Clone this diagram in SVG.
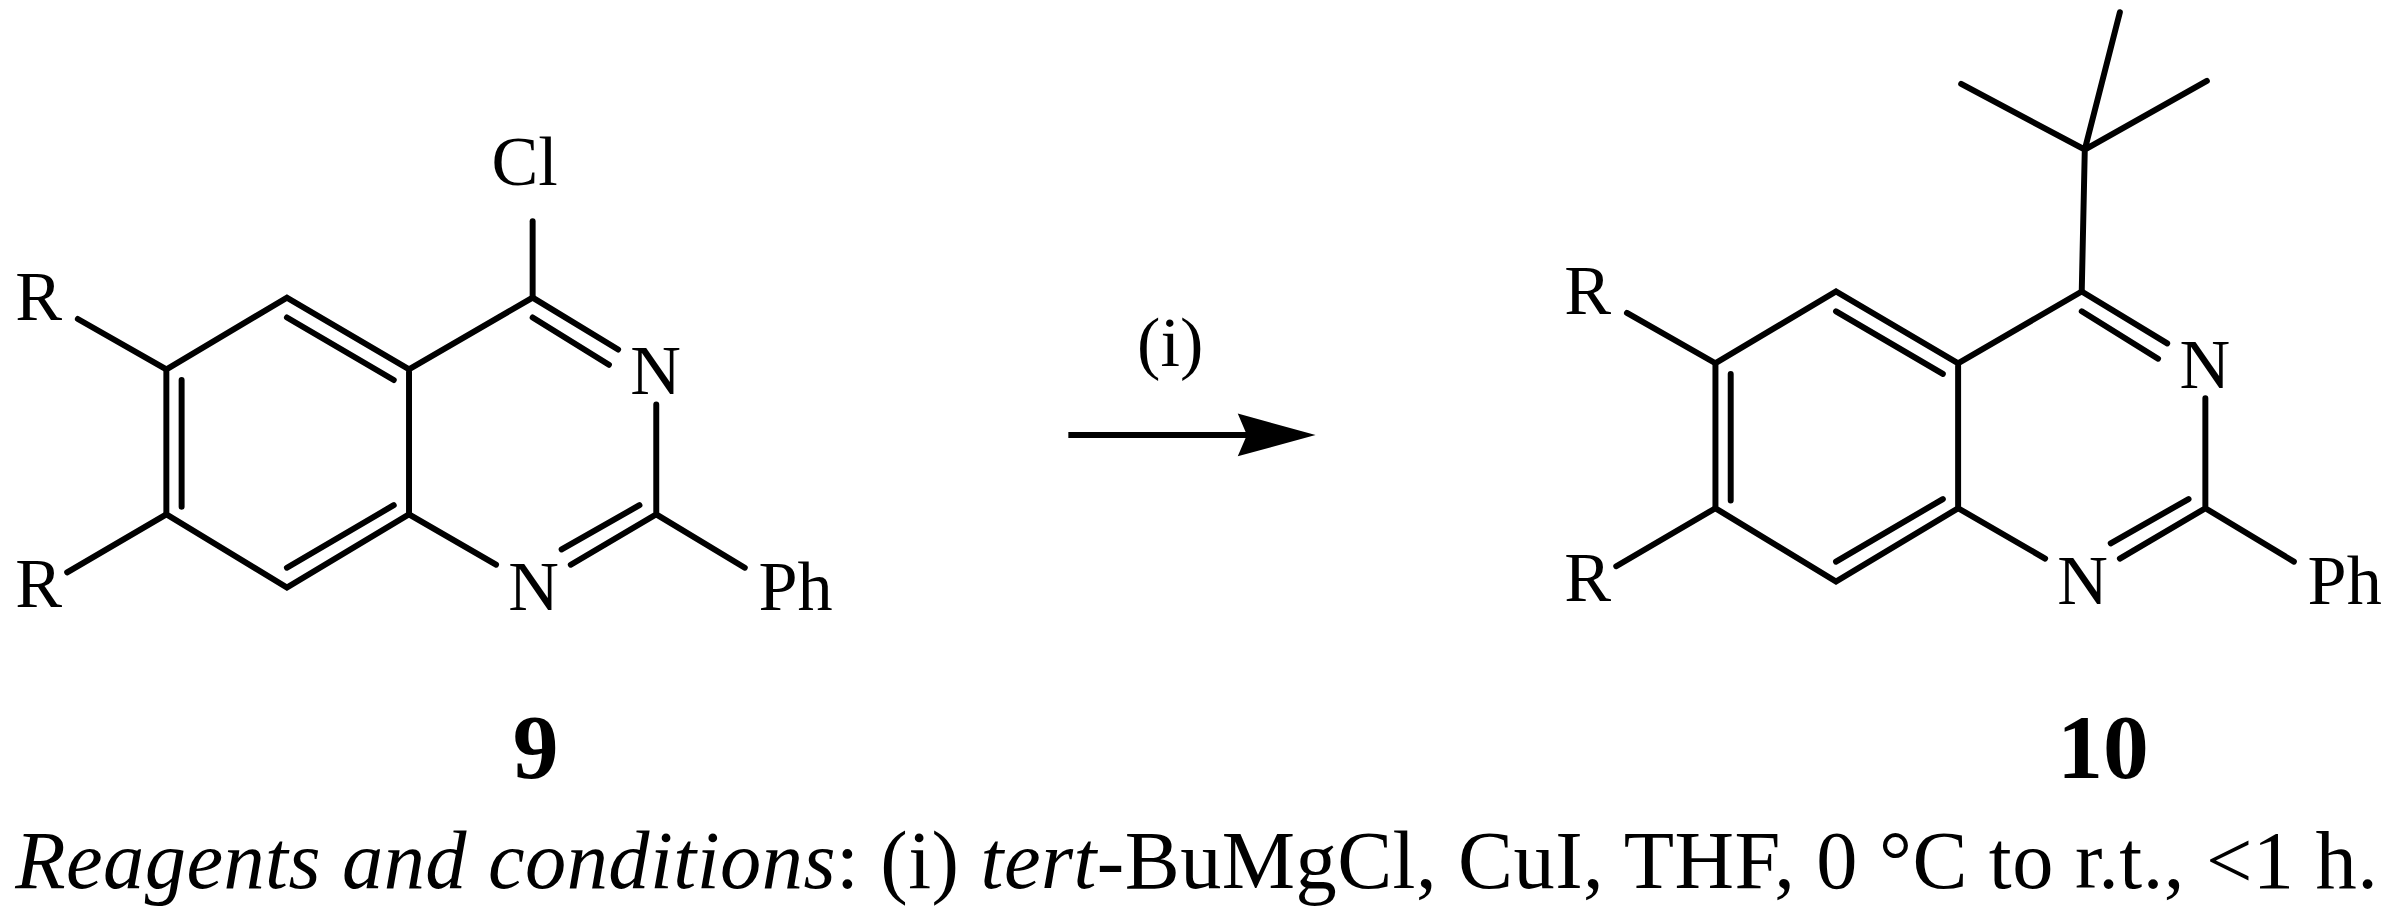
<svg xmlns="http://www.w3.org/2000/svg" width="2393" height="924" viewBox="0 0 2393 924">
<style>
.b{stroke:#000;stroke-width:3.9;fill:none;stroke-linecap:round}
.t{font-family:"Liberation Serif",serif;font-size:46px;fill:#000}
.n{font-family:"Liberation Serif",serif;font-size:60px;font-weight:bold;fill:#000}
.c{font-family:"Liberation Serif",serif;font-size:54px;fill:#000}
</style>
<defs>
<g id="core">
<path class="b" d="M349,195 L268,242 L188,195 L109,242 L109,337 L188,385 L268,337 L268,242"/>
<path class="b" d="M188,208 L258,249 M119,249 L119,332 M188,372 L258,331"/>
<path class="b" d="M349,195 L405,229 M349,208 L399,239 M430,265 L430,337 L374,370 M368,360 L419,331 M268,337 L325,370 M430,337 L488,372"/>
<path class="b" d="M51,209 L109,242 M44,375 L109,337"/>
<text class="t" x="413" y="258">N</text>
<text class="t" x="333" y="400">N</text>
<text class="t" x="497" y="400">Ph</text>
<text class="t" x="10" y="210">R</text>
<text class="t" x="10" y="398">R</text>
</g>
</defs>
<g transform="scale(1.5262)">
<g id="compound9">
<use href="#core"/>
<path class="b" d="M349,195 L349,145"/>
<text class="t" x="322" y="121">Cl</text>
<text class="n" x="336" y="510">9</text>
</g>
<g id="connectors">
<line class="b" x1="700" y1="285" x2="830" y2="285" style="stroke-linecap:butt"/>
<path d="M862,285 L811,271 L817,285 L811,299 Z" fill="#000"/>
</g>
<g id="reagent"><text class="t" x="745" y="240">(i)</text></g>
<g id="compound10">
<g transform="translate(1015,-4)"><use href="#core"/></g>
<path class="b" d="M1364,191 L1366,98 L1285,55 M1366,98 L1446,53 M1366,98 L1389,8"/>
<text class="n" x="1348" y="510">10</text>
</g>
<g id="caption">
<text class="c" x="10" y="582" textLength="1548"><tspan font-style="italic">Reagents and conditions</tspan>: (i) <tspan font-style="italic">tert</tspan>-BuMgCl, CuI, THF, 0 °C to r.t., &lt;1 h.</text>
</g>
</g>
</svg>
